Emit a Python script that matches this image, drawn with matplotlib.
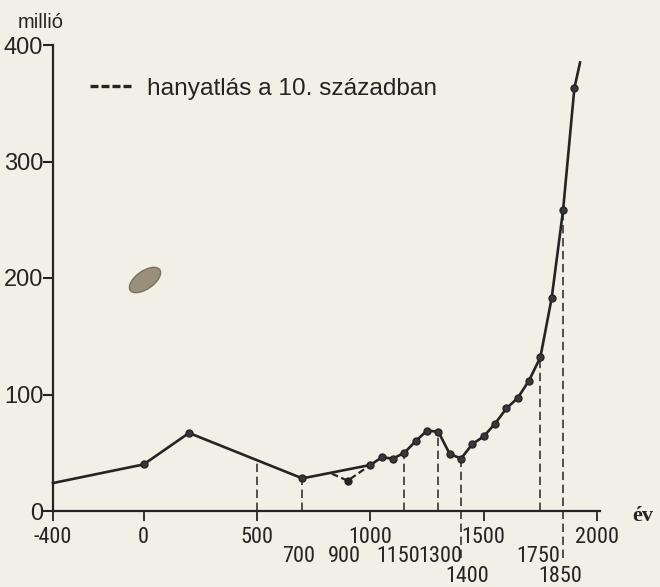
import matplotlib
matplotlib.use("Agg")
import matplotlib.pyplot as plt
import numpy as np
from matplotlib import font_manager
from matplotlib.lines import Line2D
from matplotlib.patches import Ellipse

# population curve (million), years
years = [-400, 0, 200, 700, 1000, 1050, 1100, 1150, 1200, 1250, 1300, 1350,
         1400, 1450, 1500, 1550, 1600, 1650, 1700, 1750, 1800, 1850, 1900, 1925]
population = [24, 40, 67, 28, 39.5, 46, 45, 50, 60, 69, 68, 49,
              45, 57.5, 64, 75, 88, 97, 112, 132, 183, 258, 363, 385]

# 10th-century decline (dashed branch)
decline_years = [830, 900, 1000]
decline_population = [32, 26, 39.5]

# years marked with dashed drop lines
marked_years = [500, 700, 1150, 1300, 1400, 1750, 1850]
long_marks = [1400, 1850]          # these reach down to their labels

xticks = [-400, 0, 500, 1000, 1500, 2000]
yticks = [0, 100, 200, 300, 400]
row2_labels = [700, 900, 1150, 1300, 1750]
row3_labels = [1400, 1850]

PAPER = "#f2efe7"
INK = "#242424"


def narrow_font():
    """Look for a condensed sans face; fall back to Liberation Sans."""
    wanted = ["LiberationSansNarrow-Regular", "RobotoCondensed-Regular",
              "NotoSans-Condensed.", "NotoSans-CondensedRegular", "DejaVuSansCondensed.",
              "OpenSans-CondensedRegular", "OpenSans_Condensed-Regular",
              "NotoSans-SemiCondensed.", "NotoSans-SemiCondensedRegular"]
    files = [f.fname for f in font_manager.fontManager.ttflist]
    for w in wanted:
        for fn in files:
            if w in fn.split("/")[-1]:
                return font_manager.FontProperties(fname=fn), True
    return font_manager.FontProperties(family="Liberation Sans"), False


XFONT, IS_NARROW = narrow_font()
XSIZE = 16 if IS_NARROW else 13.5
plt.rcParams["font.family"] = ["Liberation Sans", "DejaVu Sans"]

fig = plt.figure(figsize=(6.6, 5.87), dpi=100)
fig.patch.set_facecolor(PAPER)
ax = fig.add_axes([53 / 660, 76 / 587, 547 / 660, 466 / 587])
ax.set_facecolor("none")
ax.set_xlim(-400, 2013)
ax.set_ylim(0, 400)

for side in ("top", "right"):
    ax.spines[side].set_visible(False)
for side in ("left", "bottom"):
    ax.spines[side].set_linewidth(1.6)
    ax.spines[side].set_color(INK)

# drop lines
marks_val = np.interp(marked_years, years, population)
for yr, v in zip(marked_years, marks_val):
    lo = -40 if yr in long_marks else 0
    ax.plot([yr, yr], [lo, v], color=INK, lw=1.1, dashes=(5.5, 3), clip_on=False)

# decline branch
ax.plot(decline_years, decline_population, color=INK, lw=1.6, dashes=(3, 1.6),
        marker="o", markersize=5, markevery=[1])

# main curve
ax.plot(years, population, color=INK, lw=1.9, marker="o", markersize=5,
        markevery=slice(1, -1), markerfacecolor="#383838",
        markeredgecolor=INK, clip_on=False, solid_joinstyle="round")

ax.set_yticks(yticks)
ax.set_yticklabels([str(v) for v in yticks])
ax.tick_params(axis="y", length=7, width=1.5, pad=0, labelsize=17,
               color=INK, labelcolor=INK)
ax.set_xticks(xticks)
ax.set_xticklabels([str(v) for v in xticks])
for lab in ax.get_xticklabels():
    lab.set_fontproperties(XFONT)
    lab.set_fontsize(XSIZE)
ax.tick_params(axis="x", length=7, width=1.3, pad=4.5, color=INK, labelcolor=INK)

nudge = {700: -4, 900: -3, 1150: -6, 1300: 2, 1750: -2, 1400: 6, 1850: -3}
for row, dy in ((row2_labels, -45), (row3_labels, -66)):
    for yr in row:
        ax.annotate(str(yr), xy=(yr, 0), xytext=(nudge[yr], dy),
                    textcoords="offset pixels", ha="center", va="center",
                    fontproperties=XFONT, fontsize=XSIZE, color=INK,
                    annotation_clip=False)

fig.text(18 / 660, 1 - 23 / 587, "millió", fontsize=14.5, color=INK, va="center")
fig.text(632 / 660, 1 - 516 / 587, "év", fontsize=16, color=INK, va="center",
         fontfamily="Liberation Serif", fontweight="bold")

handle = Line2D([], [], color=INK, lw=2.4, dashes=(2.4, 0.9))
ax.legend([handle], ["hanyatlás a 10. században"], loc="center left",
          bbox_to_anchor=(90 / 660, 1 - 89 / 587), bbox_transform=fig.transFigure,
          frameon=False, fontsize=17.6, handlelength=1.75, handletextpad=0.6,
          borderpad=0, borderaxespad=0, labelcolor=INK)

# paper stain
fig.patches.append(Ellipse((1.45, 5.87 - 2.80), 0.36, 0.18, angle=35,
                           transform=fig.dpi_scale_trans, facecolor="#8a7f6a",
                           edgecolor="#6f6653", lw=1, alpha=0.85))

fig.savefig("out.png", dpi=100, facecolor=PAPER)
